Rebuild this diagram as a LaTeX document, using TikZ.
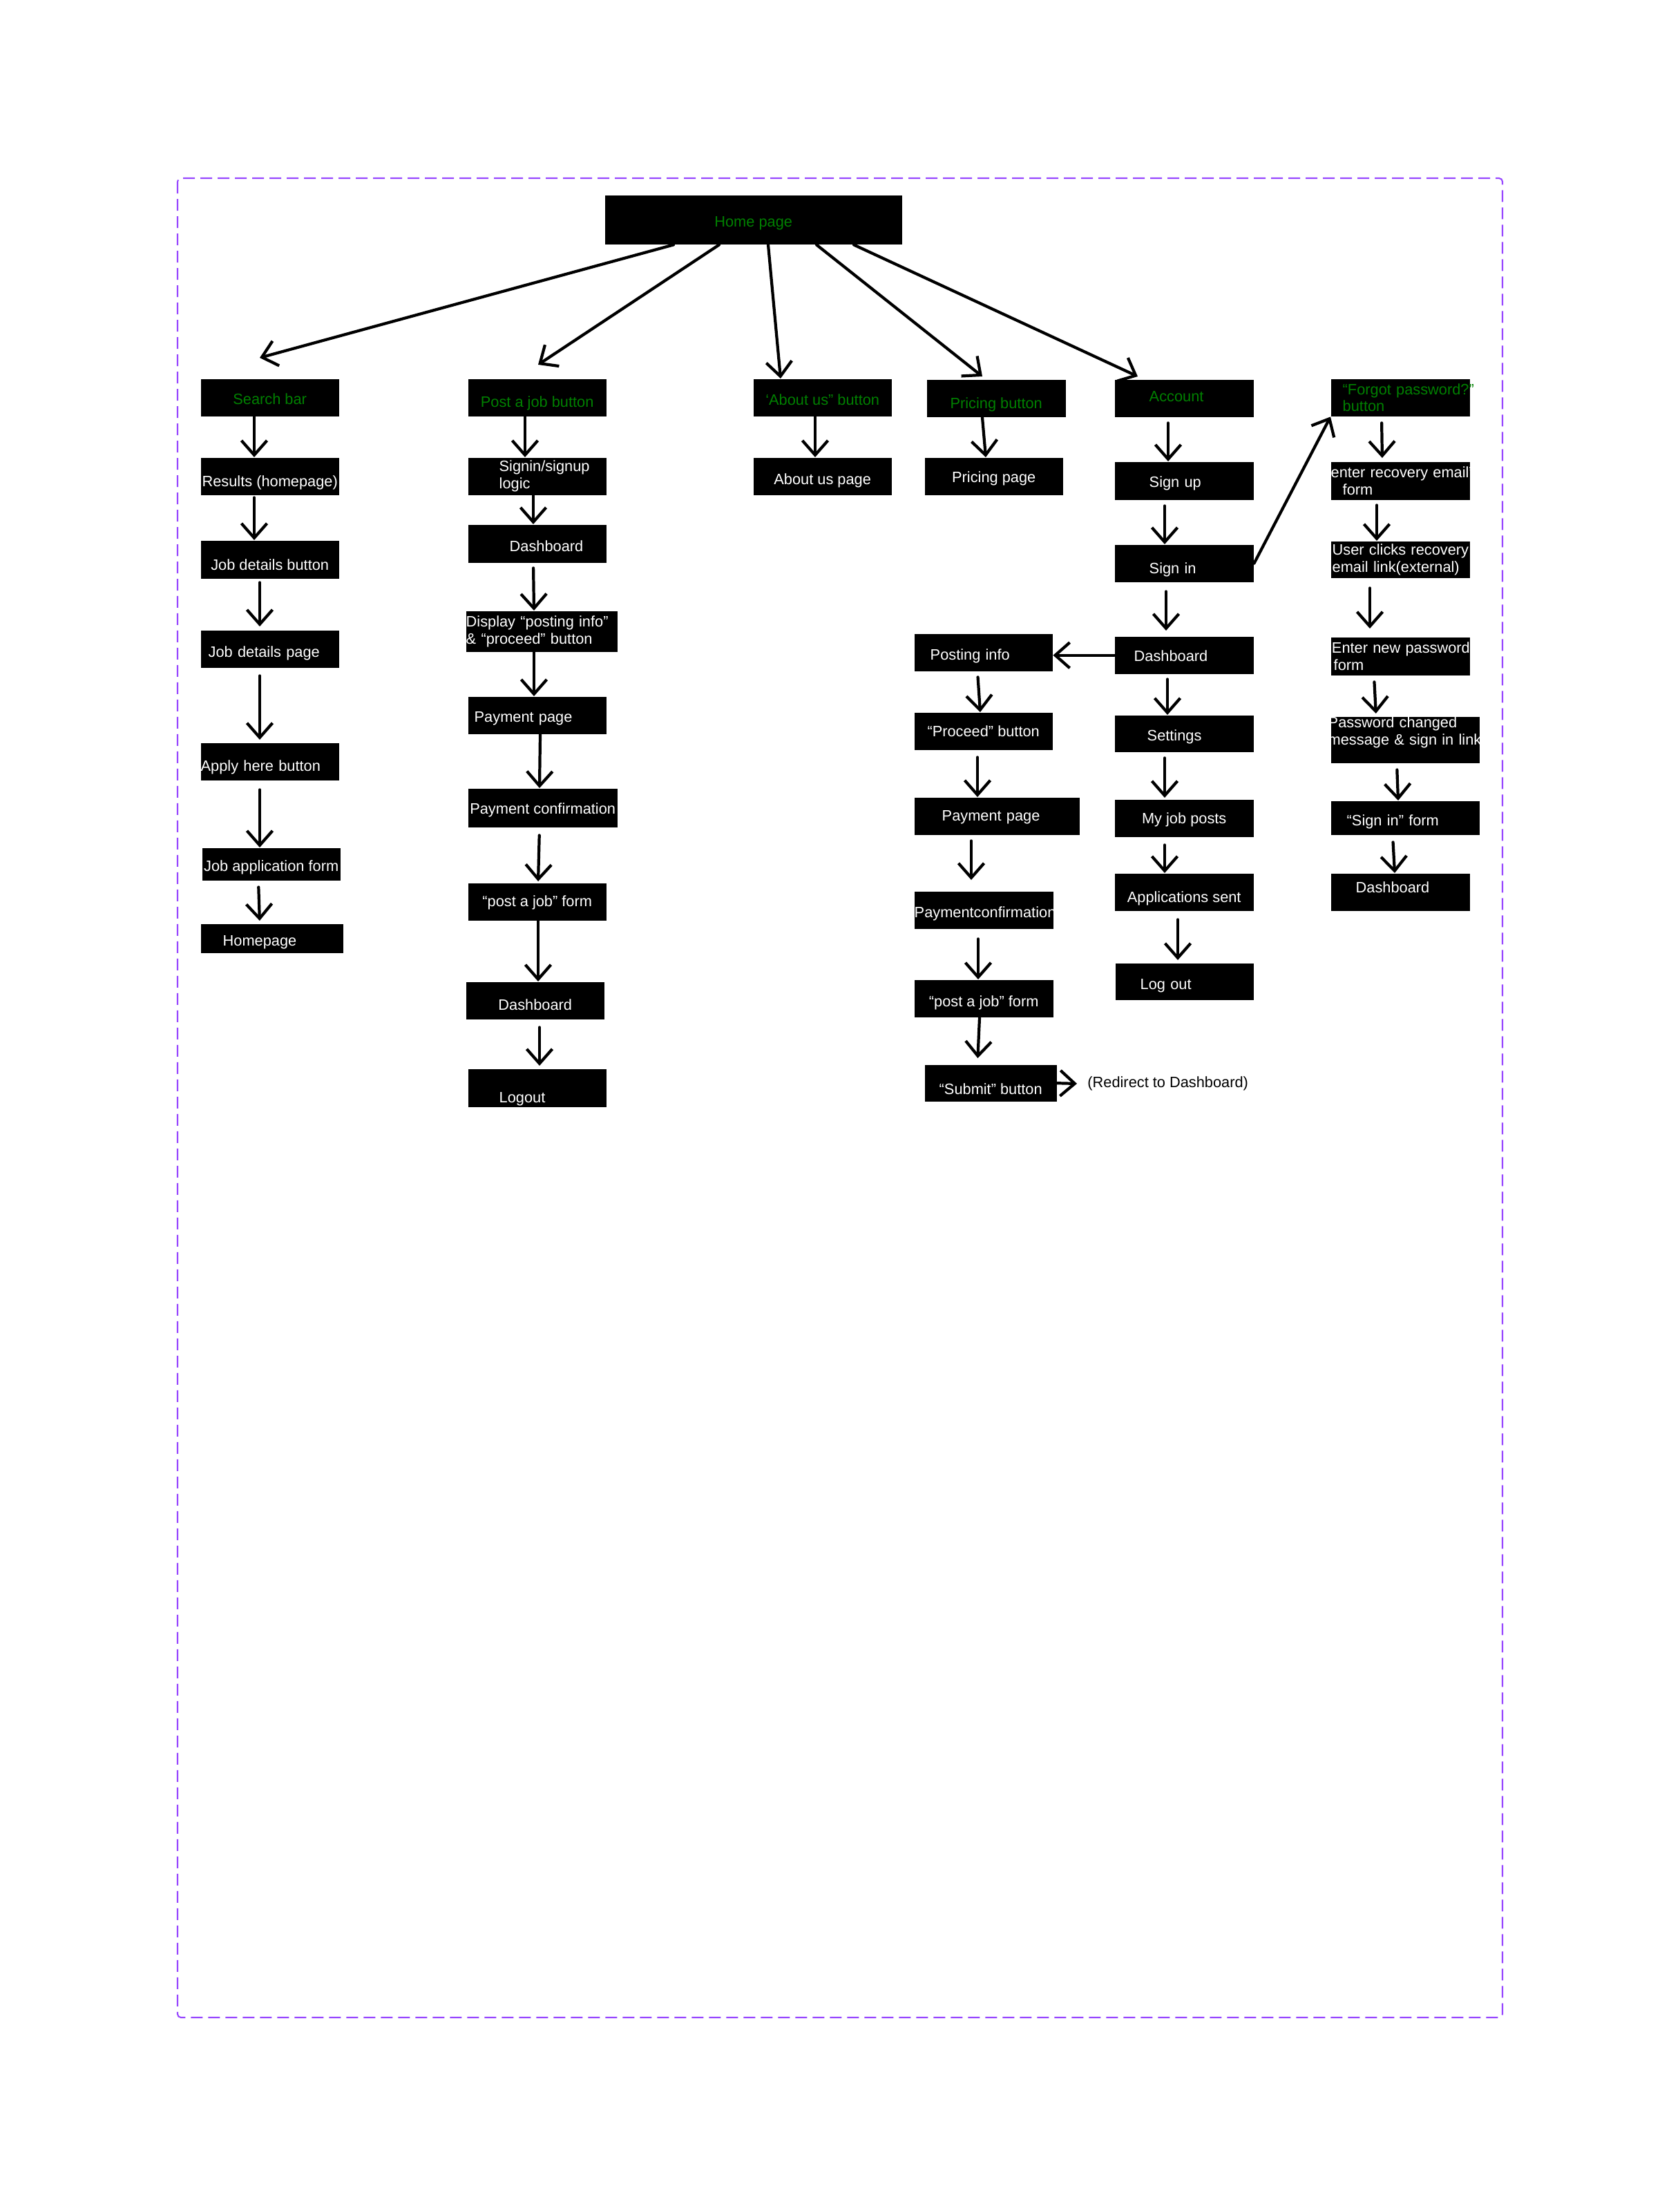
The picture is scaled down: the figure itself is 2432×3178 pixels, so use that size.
\documentclass[tikz,border=0pt]{standalone}
\usepackage{fontspec}
\setmainfont{Liberation Sans}
\usetikzlibrary{arrows.meta,calc}
\definecolor{btngreen}{RGB}{0,128,0}
\definecolor{framepurple}{RGB}{151,71,255}
\newcommand{\lbl}{\fontsize{6.2}{7.1}\selectfont}
\hyphenpenalty=10000
\exhyphenpenalty=10000
\begin{document}
\begin{tikzpicture}[x=0.1mm, y=-0.1mm,
  every node/.style={font=\lbl},
  box/.style={fill=black, text=white, anchor=north west, inner sep=0pt, minimum width=20mm, minimum height=5.4mm, text height=8pt, text depth=1.8pt},
  btn/.style={box, text=btngreen},
  lbox/.style={box, align=left},
  ml/.style={text height=, text depth=},
  arr/.style={-{Straight Barb[length=2.1mm,width=3.7mm]}, line width=1.2pt, line cap=round, line join=round}]
\useasboundingbox (0,0) rectangle (2432,3178);
\draw[framepurple, line width=0.6pt, dash pattern=on 1.7mm off 0.8mm, rounded corners=0.5mm] (257,258) rectangle (2175,2921);

% top
\node[btn, minimum width=43mm, minimum height=7.1mm, text height=7.6pt] (home) at (875,282) {Home page};

% search column
\node[btn, text height=7.4pt] (search) at (290,548) {Search bar};
\node[box, text height=10.2pt] (results) at (290,662) {Results (homepage)};
\node[box, minimum height=5.5mm, text height=10.4pt] (jobbtn) at (290,782) {Job details button};
\node[lbox, inner xsep=1.1mm, text width=17.8mm, text height=8.4pt] (jobpage) at (290,912) {Job~details~page};
\node[lbox, text width=20mm, text height=9.4pt] (apply) at (290,1075) {Apply~here~button};
\node[box, minimum height=4.7mm, text height=7.4pt] (appform) at (292,1227) {Job application form};
\node[lbox, inner xsep=3.2mm, text width=14.2mm, minimum height=4.2mm, text height=7.8pt] (homepage) at (290,1337) {Homepage};

% post a job column
\node[btn, text height=9.6pt] (postjob) at (677,548) {Post a job button};
\node[lbox, ml, inner xsep=4.5mm, text width=11mm] (signlogic) at (677,662) {Signin/signup\\logic};
\node[lbox, inner xsep=6mm, text width=8mm, minimum height=5.5mm, text height=8.2pt] (dashA) at (677,759) {Dashboard};
\node[lbox, ml, text width=21.9mm, minimum height=5.9mm] (display) at (674,884) {Display~“posting~info”\\\&~“proceed”~button};
\node[lbox, inner xsep=0.9mm, text width=18.2mm, text height=7.4pt] (payA) at (677,1008) {Payment~page};
\node[box, minimum width=21.6mm, minimum height=5.6mm, text height=6.8pt] (confA) at (677,1141) {Payment confirmation};
\node[box, text height=5.4pt] (formA) at (677,1278) {“post a job” form};
\node[box, text height=9.4pt] (dashB) at (674,1421) {Dashboard};
\node[lbox, inner xsep=4.5mm, text width=11mm, text height=13.8pt] (logoutA) at (677,1547) {Logout};

% about / pricing
\node[btn] (about) at (1090,548) {‘About us” button};
\node[box, text height=8.4pt] (aboutpage) at (1090,662) {About us page};
\node[btn, minimum width=20.1mm, text height=10.2pt] (pricing) at (1341,549) {Pricing button};
\node[box, text height=6.8pt] (pricepage) at (1338,662) {Pricing page};

% account column
\node[lbox, inner xsep=5mm, text width=10.1mm, text=btngreen, text height=4.4pt] (account) at (1613,549) {Account};
\node[lbox, inner xsep=5mm, text width=10.1mm, minimum height=5.5mm, text height=7pt] (signup) at (1613,668) {Sign~up};
\node[lbox, inner xsep=5mm, text width=10.1mm, text height=10.2pt] (signin) at (1613,788) {Sign~in};
\node[lbox, inner xsep=2.8mm, text width=14.5mm, text height=6.8pt] (dashC) at (1613,921) {Dashboard};
\node[lbox, inner xsep=4.7mm, text width=10.7mm, minimum height=5.3mm, text height=7.6pt] (settings) at (1613,1035) {Settings};
\node[box, minimum width=20.1mm, text height=6.2pt] (myposts) at (1613,1157) {My job posts};
\node[box, minimum width=20.1mm, text height=10.2pt] (appsent) at (1613,1264) {Applications sent};
\node[lbox, inner xsep=3.6mm, text width=12.8mm, minimum height=5.3mm, text height=8.2pt] (logoutB) at (1614,1394) {Log~out};

% posting column
\node[lbox, inner xsep=2.3mm, text width=15.4mm, text height=8.2pt] (postinfo) at (1323,917) {Posting~info};
\node[box, text height=6.2pt] (proceed) at (1323,1031) {“Proceed” button};
\node[lbox, inner xsep=4mm, text width=15.9mm, text height=5.6pt] (payB) at (1323,1154) {Payment~page};
\node[lbox, text width=20.1mm] (confB) at (1323,1290) {Paymentconfirmation};
\node[box, minimum width=20.1mm, text height=8.4pt] (formB) at (1323,1418) {“post a job” form};
\node[box, minimum width=19.1mm, minimum height=5.3mm, text height=11pt] (submit) at (1338,1541) {“Submit” button};
\node[anchor=west] (redirect) at (1562,1569) {(Redirect to Dashboard)};

% forgot password column
\node[lbox, ml, inner xsep=1.7mm, text width=16.7mm, text=btngreen] (forgot) at (1926,548) {“Forgot~password?”\\button};
\node[lbox, ml, text width=20.1mm, minimum height=5.5mm] (recovery) at (1926,668) {enter~recovery~email”\\\hspace*{1.7mm}form};
\node[lbox, ml, inner xsep=0.2mm, text width=19.7mm, minimum height=5.3mm] (clicks) at (1926,783) {User~clicks~recovery\\email~link(external)};
\node[lbox, ml, text width=20.1mm, minimum height=5.5mm] (newpass) at (1926,922) {\hspace*{-0.6mm}“Enter~new~password”\\\hspace*{0.4mm}form};
\node[lbox, ml, text width=21.5mm, minimum height=6.6mm, text depth=14.6pt] (changed) at (1926,1037) {\hspace*{-0.4mm}Password~changed\\\hspace*{-0.4mm}message~\&~sign~in~link};
\node[lbox, inner xsep=2.3mm, text width=16.9mm, minimum height=4.9mm] (signinform) at (1926,1159) {“Sign~in”~form};
\node[lbox, inner xsep=3.6mm, text width=12.9mm, text height=2.2pt] (dashD) at (1926,1264) {Dashboard};

% arrows from home
\draw[arr] (home.south -| 975,0) -- ($(search.north -| 376,0)+(0,-30)$);
\draw[arr] (home.south -| 1041,0) -- ($(postjob.north -| 779,0)+(0,-20)$);
\draw[arr] (home.south -| 1112,0) -- (about.north -| 1130,0);
\draw[arr] (home.south -| 1182,0) -- ($(pricing.north -| 1422,0)+(0,-4)$);
\draw[arr] (home.south -| 1236,0) -- ($(account.north -| 1647,0)+(0,-4)$);

% search column
\draw[arr] (search.south -| 368,0) -- (results.north -| 368,0);
\draw[arr, shorten <=0.3mm] (results.south -| 368,0) -- (jobbtn.north -| 368,0);
\draw[arr, shorten <=0.5mm, shorten >=0.5mm] (jobbtn.south -| 376,0) -- (jobpage.north -| 376,0);
\draw[arr, shorten <=1.1mm, shorten >=0.4mm] (jobpage.south -| 376,0) -- (apply.north -| 376,0);
\draw[arr, shorten <=1.3mm] (apply.south -| 376,0) -- (appform.north -| 376,0);
\draw[arr, shorten <=0.9mm, shorten >=0.4mm] (appform.south -| 374,0) -- (homepage.north -| 376,0);

% post a job column
\draw[arr] (postjob.south -| 760,0) -- (signlogic.north -| 760,0);
\draw[arr] (signlogic.south -| 772,0) -- (dashA.north -| 772,0);
\draw[arr, shorten <=0.7mm] (dashA.south -| 772,0) -- (display.north -| 773,0);
\draw[arr] (display.south -| 773,0) -- (payA.north -| 773,0);
\draw[arr] (payA.south -| 782,0) -- (confA.north -| 781,0);
\draw[arr, shorten <=1.1mm, shorten >=0.2mm] (confA.south -| 781,0) -- (formA.north -| 779,0);
\draw[arr] (formA.south -| 779,0) -- (dashB.north -| 779,0);
\draw[arr, shorten <=1.1mm, shorten >=0.4mm] (dashB.south -| 781,0) -- (logoutA.north -| 781,0);

% about / pricing
\draw[arr] (about.south -| 1180,0) -- (aboutpage.north -| 1180,0);
\draw[arr] (pricing.south -| 1422,0) -- (pricepage.north -| 1427,0);

% account column
\draw[arr, shorten <=0.8mm] (account.south -| 1691,0) -- (signup.north -| 1691,0);
\draw[arr, shorten <=0.8mm] (signup.south -| 1686,0) -- (signin.north -| 1686,0);
\draw[arr, shorten <=1.3mm, shorten >=0.8mm] (signin.south -| 1688,0) -- (dashC.north -| 1688,0);
\draw[arr] (dashC.west) -- (postinfo.east |- dashC.west);
\draw[arr, shorten <=0.7mm] (dashC.south -| 1690,0) -- (settings.north -| 1690,0);
\draw[arr, shorten <=0.8mm, shorten >=0.2mm] (settings.south -| 1686,0) -- (myposts.north -| 1686,0);
\draw[arr, shorten <=1.1mm] (myposts.south -| 1686,0) -- (appsent.north -| 1686,0);
\draw[arr, shorten <=1.2mm, shorten >=0.4mm] (appsent.south -| 1705,0) -- (logoutB.north -| 1705,0);
\draw[arr] (signin.east) -- (forgot.south west);

% posting column
\draw[arr, shorten <=0.8mm] (postinfo.south -| 1415,0) -- (proceed.north -| 1419,0);
\draw[arr, shorten <=1mm] (proceed.south -| 1415,0) -- (payB.north -| 1415,0);
\draw[arr, shorten <=0.8mm, shorten >=1.6mm] (payB.south -| 1406,0) -- (confB.north -| 1406,0);
\draw[arr, shorten <=1.4mm] (confB.south -| 1416,0) -- (formB.north -| 1416,0);
\draw[arr, shorten >=0.9mm] (formB.south -| 1418,0) -- (submit.north -| 1415,0);
\draw[arr, shorten >=0.3mm] (submit.east) -- (redirect.west);

% forgot password column
\draw[arr, shorten <=0.9mm, shorten >=0.5mm] (forgot.south -| 2000,0) -- (recovery.north -| 2001,0);
\draw[arr, shorten <=0.7mm] (recovery.south -| 1993,0) -- (clicks.north -| 1993,0);
\draw[arr, shorten <=1.4mm, shorten >=1.2mm] (clicks.south -| 1983,0) -- (newpass.north -| 1983,0);
\draw[arr, shorten <=0.9mm, shorten >=0.4mm] (newpass.south -| 1989,0) -- (changed.north -| 1992,0);
\draw[arr, shorten <=0.9mm] (changed.south -| 2022,0) -- (signinform.north -| 2024,0);
\draw[arr, shorten <=1mm] (signinform.south -| 2016,0) -- (dashD.north -| 2019,0);
\end{tikzpicture}
\end{document}
